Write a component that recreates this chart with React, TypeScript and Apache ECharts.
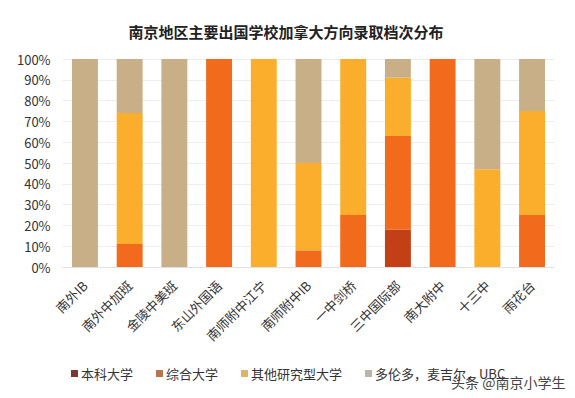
import React, { useEffect, useRef } from "react";
import * as echarts from "echarts";

const categories = ["南外IB", "南外中加班", "金陵中美班", "东山外国语", "南师附中江宁", "南师附中IB", "一中剑桥", "三中国际部", "南大附中", "十三中", "雨花台"];
const seriesNames = ["本科大学", "综合大学", "其他研究型大学", "多伦多，麦吉尔，UBC"];
const benke = [0, 0, 0, 0, 0, 0, 0, 18, 0, 0, 0];
const zonghe = [0, 11, 0, 100, 0, 8, 25, 45, 100, 0, 25];
const yanjiu = [0, 63, 0, 0, 100, 42, 75, 28, 0, 47, 50];
const top3 = [100, 26, 100, 0, 0, 50, 0, 9, 0, 53, 25];
const yTicks = [0, 10, 20, 30, 40, 50, 60, 70, 80, 90, 100];

const barColors = ["#C33F16", "#F26A1B", "#FAAE2B", "#C9AF88"];
const legendColors = ["#7a3b2e", "#b5764f", "#dcb46a", "#bab5ab"];

export default function App() {
  const ref = useRef<HTMLDivElement>(null);
  useEffect(() => {
    document.body.style.margin = "0";
    const chart = echarts.init(ref.current!, undefined, { renderer: "svg" });
    const data = [benke, zonghe, yanjiu, top3];
    chart.setOption({
      animation: false,
      backgroundColor: "#ffffff",
      title: {
        text: "南京地区主要出国学校加拿大方向录取档次分布",
        left: 281,
        textAlign: "center",
        top: 19,
        textStyle: { fontSize: 15, fontWeight: "bold", color: "#222", fontFamily: "Noto Sans CJK SC" },
      },
      legend: {
        left: 66,
        top: 362,
        itemWidth: 7,
        itemHeight: 7,
        itemGap: 23,
        icon: "rect",
        textStyle: { fontSize: 13, color: "#333", fontFamily: "Noto Sans CJK SC", padding: [0, 0, 0, -2] },
        data: seriesNames.map((n, i) => ({ name: n, itemStyle: { color: legendColors[i] } })),
      },
      grid: { left: 62.6, right: 20.6, top: 59, bottom: 131 },
      xAxis: {
        type: "category",
        data: categories,
        axisTick: { show: false },
        axisLine: { show: true, lineStyle: { color: "#dde2ea" } },
        axisLabel: { rotate: 45, fontSize: 13, color: "#333", margin: 16, interval: 0, fontFamily: "Noto Sans CJK SC" },
      },
      yAxis: {
        type: "value",
        min: yTicks[0],
        max: yTicks[yTicks.length - 1],
        interval: 10,
        axisLabel: { formatter: "{value}%", fontSize: 13, color: "#333", margin: 12, fontFamily: "Noto Sans CJK SC" },
        axisLine: { show: false },
        axisTick: { show: false },
        splitLine: { lineStyle: { color: "#eeeeee" } },
      },
      series: seriesNames.map((n, i) => ({
        name: n,
        type: "bar",
        stack: "total",
        barWidth: "58%",
        itemStyle: { color: barColors[i] },
        data: data[i],
      })),
      graphic: [
        {
          type: "text",
          left: 450,
          top: 374,
          style: {
            text: "头条 @南京小学生",
            fontSize: 14,
            fill: "#444",
            stroke: "#ffffff",
            lineWidth: 2,
            fontFamily: "Noto Sans CJK SC",
          },
        },
      ],
    });
    return () => chart.dispose();
  }, []);
  return <div ref={ref} style={{ width: 575, height: 398 }} />;
}
